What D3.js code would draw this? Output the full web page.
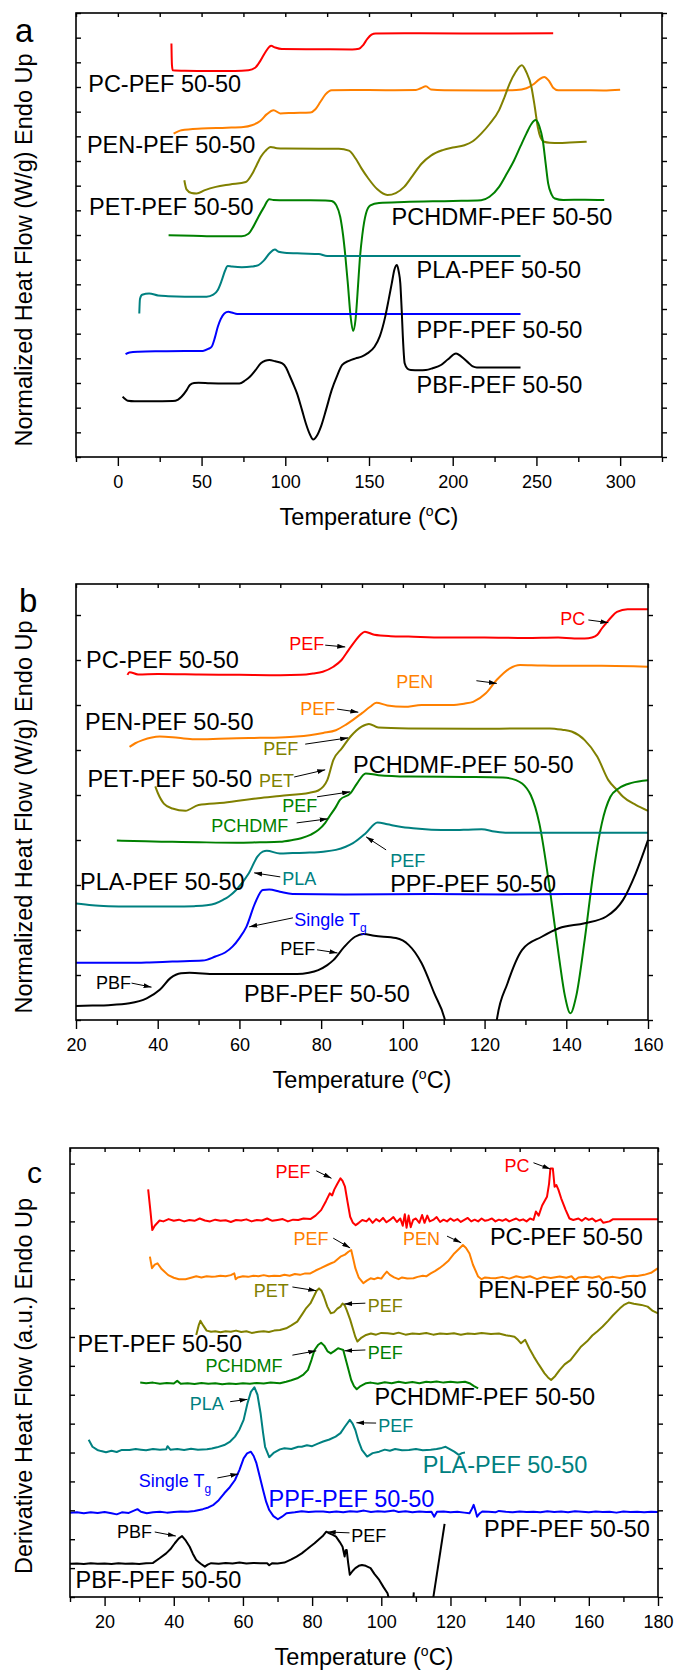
<!DOCTYPE html>
<html><head><meta charset="utf-8">
<script src="https://cdn.jsdelivr.net/npm/d3@7"></script>
<style>body{margin:0;background:#fff}svg{display:block}text{font-family:"Liberation Sans",Arial,sans-serif}</style>
</head><body><svg id="chart" width="674" height="1671"></svg>
<script>
// ---------- colours ----------
const colors = {PC:"#ff0000", PEN:"#ff8000", PET:"#808000", PCH:"#008000", PLA:"#008080", PPF:"#0000ff", PBF:"#000000"};

// ---------- panel a : Normalized heat flow (arbitrary units, 1 unit = 1 tick) ----------
const aPC = [[32,16.76],[32.3,15.9],[32.8,15.68],[40,15.66],[55,15.65],[70,15.65],[78,15.68],[82,15.78],[85,16.05],[88,16.4],[90.5,16.63],[91.5,16.67],[94,16.6],[98,16.54],[120,16.53],[140,16.52],[144,16.55],[146.5,16.7],[149,16.95],[151.5,17.12],[154,17.17],[180,17.18],[220,17.17],[260,17.18]];
const aPEN = [[33.3,13.11],[38,13.25],[50,13.32],[65,13.35],[75,13.38],[80,13.45],[85,13.62],[89,13.9],[93,14.06],[97,13.93],[105,13.95],[115,13.97],[118,14.1],[121,14.4],[124,14.7],[127.7,14.87],[140,14.88],[160,14.87],[178,14.88],[181,14.95],[184,15.03],[187,14.9],[195,14.87],[220,14.86],[238,14.88],[244,14.95],[248,15.1],[251.5,15.3],[254.6,15.41],[257.5,15.25],[260,14.97],[263,14.87],[275,14.87],[290,14.86],[300,14.89]];
const aPET = [[39.7,11.22],[41,10.85],[44,10.7],[47,10.68],[52,10.82],[58.5,10.95],[67,11.05],[76.4,11.15],[80,11.45],[83,11.85],[85.4,12.17],[88,12.4],[91.3,12.57],[95,12.52],[100,12.51],[120,12.5],[132,12.5],[138,12.42],[142,12.1],[145.5,11.7],[149.5,11.3],[155,10.85],[161,10.62],[166,10.7],[171,10.95],[176,11.4],[181.5,11.9],[187,12.22],[194,12.44],[200,12.55],[207,12.64],[212,12.8],[217,13.11],[222,13.5],[227.7,14.06],[231,14.6],[234,15.14],[237.5,15.6],[241.3,15.88],[244,15.6],[247,15.0],[249,14.2],[250.8,13.38],[252.5,12.95],[254.6,12.78],[258,12.74],[263.6,12.73],[270,12.75],[280,12.78]];
const aPCH = [[30.3,8.99],[45,8.97],[60,8.95],[74,8.95],[78,9.05],[81,9.35],[84,9.74],[87,10.1],[90.5,10.45],[93,10.42],[100,10.41],[115,10.41],[124,10.4],[127.7,10.38],[130.5,10.2],[132.8,9.74],[134.5,9.0],[135.8,8.2],[137.4,7.0],[139,5.7],[140.5,5.11],[142,5.6],[143.5,7.0],[144.5,8.0],[146,9.0],[148.2,9.87],[150.8,10.2],[156,10.3],[171,10.34],[200,10.38],[217,10.41],[222,10.55],[227.7,10.95],[232,11.45],[236.7,12.03],[240.5,12.6],[244,13.11],[247,13.5],[249.5,13.66],[251.8,13.4],[253.8,12.84],[255.5,11.9],[257,11.09],[259,10.65],[261,10.48],[266,10.42],[279,10.43],[290.5,10.42]];
const aPLA = [[12.8,5.82],[13.2,6.4],[14.5,6.58],[18.7,6.63],[24,6.55],[30,6.52],[40,6.5],[53,6.5],[57,6.58],[59.7,6.77],[62,7.15],[64,7.55],[65.6,7.74],[68,7.72],[74,7.69],[80,7.72],[84,7.78],[87,7.95],[90.5,8.25],[93.8,8.41],[96,8.32],[99.5,8.28],[110,8.25],[120,8.23],[125,8.15],[140,8.15],[180,8.15],[240.5,8.15]];
const aPPF = [[4.6,4.17],[7,4.24],[12.3,4.27],[25,4.29],[40,4.3],[50.8,4.3],[54,4.38],[56,4.47],[58,4.85],[59.7,5.28],[61.5,5.6],[63.6,5.82],[66,5.89],[68,5.86],[71.3,5.8],[90,5.8],[150,5.8],[200,5.8],[240.5,5.8]];
const aPBF = [[2.8,2.44],[3.5,2.4],[5.9,2.28],[10,2.26],[20,2.26],[32.8,2.27],[36,2.33],[38,2.44],[41,2.7],[43,2.92],[45.5,3.0],[48.2,3.01],[55,2.99],[65,2.98],[72.6,2.98],[76,3.1],[79,3.26],[82,3.5],[85.4,3.8],[88,3.9],[90.5,3.93],[94,3.88],[98.2,3.8],[100.5,3.62],[102,3.39],[104.5,3.0],[107,2.58],[110,1.9],[112.3,1.36],[114.5,0.95],[116.7,0.71],[118.8,0.85],[121.3,1.23],[124.5,1.95],[127.7,2.71],[131,3.3],[134,3.73],[138,3.9],[142,4.0],[145.6,4.07],[149,4.2],[153.3,4.47],[156.5,4.9],[159.7,5.69],[161.8,6.4],[163.6,7.04],[165.2,7.6],[166.7,7.78],[167.8,7.5],[168.7,7.04],[169.5,6.0],[170.2,4.9],[171.3,3.8],[173,3.58],[175,3.53],[180,3.52],[184,3.53],[188,3.6],[193,3.73],[197,3.95],[202,4.2],[205,4.08],[209.7,3.8],[212,3.67],[214.4,3.63],[225,3.63],[240.5,3.63]];
const aLabels = [["PC-PEF 50-50",-17.7,14.78],["PEN-PEF 50-50",-18.5,12.32],["PET-PEF 50-50",-17.2,9.81],["PCHDMF-PEF 50-50",163.5,9.4],["PLA-PEF 50-50",178.4,7.26],["PPF-PEF 50-50",178.4,4.82],["PBF-PEF 50-50",178.4,2.59]];
const aXMajor = [0,50,100,150,200,250,300];
const aXMinor = [-25,25,75,125,175,225,275,325];

// ---------- panel b : zoom of panel a ----------
const bPC = [[32.6,7.67],[33.1,7.73],[35.2,7.68],[40,7.69],[50,7.68],[60,7.67],[70,7.66],[75,7.67],[78,7.7],[80.4,7.74],[83,7.85],[85,8.0],[86.7,8.22],[88.3,8.42],[89.6,8.56],[90.7,8.63],[93,8.56],[97,8.53],[101.4,8.52],[110,8.5],[120,8.5],[130,8.49],[138,8.5],[142,8.48],[144.5,8.48],[146.3,8.5],[147.6,8.56],[148.7,8.7],[149.7,8.81],[151,8.95],[152.4,9.07],[155,9.13],[160,9.13]];
const bPEN = [[33.1,6.07],[34.5,6.15],[36.3,6.22],[40.5,6.3],[45,6.27],[49,6.24],[55,6.25],[59.4,6.26],[65,6.27],[69.9,6.28],[74,6.3],[77.2,6.33],[80.5,6.38],[83.6,6.44],[86,6.56],[87.8,6.67],[90,6.82],[92,6.96],[93.5,7.05],[96.2,6.99],[100.4,6.96],[104.6,7.0],[111.9,7.0],[115,7.03],[117.2,7.07],[120.3,7.26],[123,7.56],[126.1,7.81],[128.7,7.89],[133,7.88],[138,7.87],[148.7,7.87],[160,7.85]];
const bPET = [[39.4,5.19],[40,5.05],[41.5,4.81],[43.6,4.7],[46.8,4.65],[50,4.78],[56.2,4.83],[64.6,4.93],[69.9,4.98],[77.2,5.05],[79.3,5.1],[81.5,5.33],[83,5.78],[85.1,6.04],[87.2,6.3],[89.9,6.52],[91.7,6.58],[94,6.5],[101.4,6.48],[117.2,6.47],[130,6.48],[136,6.48],[139,6.45],[141.3,6.41],[144.5,6.22],[147.6,5.85],[150.3,5.33],[152.4,5.11],[153.9,4.96],[157,4.78],[160,4.65]];
const bPCH = [[30,3.99],[37,3.97],[43.6,3.96],[50,3.95],[59.4,3.94],[65,3.95],[69.9,3.96],[73,4.0],[75.1,4.04],[77.5,4.12],[79.3,4.22],[81,4.38],[82,4.52],[83.5,4.72],[84.6,4.89],[87.2,5.04],[88.8,5.26],[90.9,5.48],[94,5.44],[101.4,5.41],[115,5.4],[124.5,5.39],[127.7,5.33],[130.3,5.15],[131.3,5.0],[133.4,4.37],[136,2.89],[138.2,1.41],[139.7,0.52],[141,0.15],[142.4,0.52],[144.5,1.78],[146.6,3.26],[148.7,4.37],[150.8,4.96],[152.9,5.15],[156,5.27],[160,5.33]];
const bPLA = [[20,2.59],[24,2.55],[27.9,2.53],[33,2.52],[38.4,2.52],[44,2.52],[48.9,2.53],[52,2.55],[54.1,2.59],[56,2.67],[57.3,2.74],[59.2,2.89],[62.3,3.26],[64.4,3.63],[65.7,3.74],[66.7,3.76],[69.9,3.7],[73,3.71],[77.2,3.72],[80.5,3.74],[83.6,3.78],[86,3.85],[87.8,3.93],[90.9,4.15],[93.8,4.39],[96.2,4.35],[99,4.3],[102.5,4.26],[107,4.23],[111.9,4.22],[116,4.23],[119.3,4.24],[122.4,4.19],[125.6,4.16],[135,4.16],[145,4.16],[160,4.16]];
const bPPF = [[20,1.27],[27,1.27],[33.1,1.27],[38,1.28],[43.6,1.3],[51,1.32],[54.1,1.41],[56.5,1.5],[58.3,1.63],[60,1.82],[61.7,2.07],[63.8,2.59],[65.7,2.89],[67.3,2.9],[69.9,2.85],[73,2.8],[85.7,2.79],[106.7,2.8],[127,2.79],[140,2.8],[160,2.8]];
const bPBF1 = [[20,0.31],[24,0.32],[27.9,0.33],[33.1,0.37],[37.3,0.48],[40.5,0.67],[43.1,0.93],[45.7,1.04],[47.8,1.05],[54.1,1.02],[65,1.02],[74.1,1.02],[77,1.05],[79.3,1.11],[81.5,1.22],[83,1.33],[85.7,1.63],[88.3,1.85],[90.4,1.91],[93,1.87],[98.3,1.82],[101.4,1.67],[103,1.5],[104.6,1.26],[107.7,0.59],[110.3,0.0],[110.8,-0.2]];
const bPBF2 = [[122.8,-0.2],[123,0],[125.6,0.81],[129.2,1.56],[134,1.85],[138.2,2.04],[144.5,2.15],[149.8,2.3],[153.9,2.67],[157,3.26],[160,4.0]];
const bLabels = [["PC-PEF 50-50",22.45,7.82],["PEN-PEF 50-50",22.2,6.44],["PET-PEF 50-50",22.8,5.18],["PCHDMF-PEF 50-50",87.8,5.49],["PLA-PEF 50-50",21,2.89],["PPF-PEF 50-50",96.9,2.84],["PBF-PEF 50-50",61.1,0.4]];
// [text, series, textX, textY, arrowFromX, arrowFromY, arrowToX, arrowToY]
const bNotes = [["PC","PC",138.5,8.78,145.4,8.89,150.3,8.83],["PEF","PC",72.2,8.22,81,8.33,85.9,8.29],["PEN","PEN",98.4,7.38,118,7.54,123,7.48],["PEF","PEN",74.9,6.78,83.9,6.91,89.1,6.84],["PEF","PET",65.8,5.89,76.1,6.13,86.6,6.27],["PET","PET",64.8,5.18,73.4,5.4,81,5.56],["PEF","PCH",70.5,4.62,79,4.96,87.1,5.07],["PCHDMF","PCH",53.1,4.18,74,4.38,81.6,4.47],["PEF","PLA",96.9,3.4,95.9,3.78,91,4.07],["PLA","PLA",70.5,3.0,70,3.18,63.6,3.27],["Single T","PPF",73.4,2.09,73.1,2.27,62.4,2.07],["PEF","PBF",70,1.44,79,1.56,84,1.49],["PBF","PBF",24.9,0.69,33.6,0.82,38.5,0.73]];
const bXMajor = [20,40,60,80,100,120,140,160];
const bXMinor = [30,50,70,90,110,130,150];

// ---------- panel c : derivative heat flow ----------
const cPC = [[32.6,14.11],[33.3,13.3],[33.8,12.7],[34.5,12.85],[35.9,13.03],[37,13.0],[38.5,13.08],[40,13.02],[41.5,13.06],[43,13.0],[44.5,13.05],[46,13.02],[47.5,13.1],[49,13.03],[50.5,13.0],[52,13.06],[53.5,13.02],[55,13.04],[56.5,12.98],[58,13.05],[59.5,13.03],[61,13.07],[62.5,13.0],[64,13.05],[65.5,13.03],[67,13.1],[68.5,13.02],[70,13.05],[71.5,13.08],[73,13.0],[74.5,13.06],[76,13.05],[77.5,13.1],[79.5,13.08],[81,13.2],[82.6,13.39],[84,13.7],[85.1,13.97],[85.8,13.9],[86.4,14.1],[87.3,14.3],[88.2,14.49],[88.8,14.4],[89.5,14.2],[90.2,13.7],[91,13.16],[91.8,12.95],[92.6,12.87],[93.5,12.95],[94.5,13.05],[95.7,13.0],[96.5,13.1],[97.5,12.95],[98.5,13.08],[99.5,13.0],[100.5,13.12],[101.5,12.97],[102.5,13.05],[103.5,13.15],[104.5,12.98],[105.5,13.1],[106.2,12.85],[106.8,13.25],[107.3,12.78],[107.9,13.2],[108.5,12.8],[109.2,13.05],[110,13.1],[111,12.95],[111.8,13.22],[112.5,12.95],[113.3,13.2],[114,13.0],[115,13.05],[116,13.15],[117,12.98],[118,13.06],[119,13.0],[120,13.1],[121,13.02],[122,13.08],[123,12.98],[124,13.05],[125,13.12],[126,13.0],[127,13.06],[128,13.0],[129,13.1],[130,13.02],[131,13.05],[132,13.1],[133,13.0],[134,13.06],[135,13.02],[136,13.08],[137,13.0],[138,13.05],[139,13.1],[140,13.03],[141,13.07],[142,13.0],[143,13.1],[144,13.05],[144.7,13.34],[145.5,13.2],[146.5,13.55],[147.9,13.85],[148.5,14.3],[148.9,14.83],[149.6,14.83],[150.1,14.2],[150.6,14.26],[151.2,14.1],[152,13.8],[153.3,13.4],[154.4,13.1],[155.5,13.05],[157,13.1],[158,13.02],[159,13.12],[160,13.05],[161,13.1],[162,13.0],[163.4,13.07],[164.2,12.95],[166,13.0],[166.9,13.07],[172,13.07],[180,13.07]];
const cPEN = [[33.1,11.78],[33.7,11.38],[34.5,11.5],[35.3,11.55],[36.5,11.35],[38.4,11.14],[40,11.05],[41.5,11.0],[43.4,11.0],[45,11.05],[46.5,11.1],[48,11.06],[49.5,11.1],[51,11.08],[52.1,11.09],[53.5,11.12],[55,11.1],[56.5,11.14],[57.5,11.2],[57.9,11.0],[58.5,11.06],[60,11.1],[61.5,11.08],[63,11.12],[64.5,11.1],[66,11.14],[67.5,11.1],[69,11.12],[70.7,11.11],[72,11.15],[73.5,11.12],[75,11.18],[76.5,11.15],[78,11.2],[79.5,11.2],[81,11.3],[82.5,11.38],[84.4,11.49],[85.5,11.55],[86.5,11.6],[88.2,11.78],[89.5,11.85],[90.5,11.95],[91.3,12.01],[91.9,11.7],[92.5,11.38],[93.5,11.05],[94.8,10.86],[95.8,10.95],[96.9,11.03],[98,11.0],[99,11.05],[100,11.02],[100.8,11.15],[101.6,11.26],[102.5,11.15],[103.7,11.06],[105,11.0],[106,11.06],[107.5,11.02],[109.3,11.03],[110.5,11.08],[112,11.12],[113,11.1],[114.3,11.2],[115.5,11.28],[116.8,11.38],[118,11.49],[119.5,11.65],[121.1,11.89],[122.5,12.05],[123.6,12.18],[124.5,12.08],[125.5,11.89],[126.5,11.5],[128,11.09],[129,11.0],[130,11.06],[131.5,11.04],[133,11.03],[135,11.08],[137,11.02],[139,11.1],[141,11.05],[143,11.1],[145,11.0],[147,11.08],[149,11.04],[151.6,11.09],[153.5,11.05],[155,11.1],[156,10.97],[157,11.06],[159,11.08],[161,11.05],[163,11.1],[164,10.98],[165,11.05],[167,11.08],[169,11.04],[171,11.1],[173,11.12],[174,11.11],[176,11.15],[178,11.22],[180,11.38]];
const cPET = [[46.5,9.07],[47.2,9.4],[47.7,9.56],[48.5,9.4],[49.5,9.22],[50.8,9.18],[52,9.2],[53.5,9.16],[55,9.2],[56.5,9.18],[58,9.22],[59.5,9.17],[61,9.2],[62.5,9.14],[64.5,9.18],[66,9.2],[67.5,9.17],[69,9.22],[70.7,9.24],[72.5,9.3],[74,9.4],[75.7,9.53],[77.2,9.8],[78.3,10.0],[79.5,10.16],[80.5,10.4],[81.3,10.6],[82,10.68],[82.7,10.6],[83.4,10.4],[84.4,10.05],[85.4,9.82],[86.3,9.85],[87.3,9.98],[88.2,10.05],[88.8,10.16],[89.4,10.1],[90,9.93],[91,9.6],[91.9,9.24],[92.5,9.0],[93.1,8.84],[94.3,8.98],[95.6,9.07],[97,9.12],[98.5,9.08],[100,9.14],[101.8,9.13],[103.5,9.1],[105,9.15],[107,9.08],[109,9.12],[111,9.1],[113,9.14],[115,9.08],[117,9.12],[119,9.1],[121,9.13],[123,9.08],[125,9.12],[127,9.1],[129,9.14],[131.7,9.1],[134,9.12],[136,9.06],[138.5,9.01],[139.5,8.9],[140.4,8.78],[141.6,8.9],[142.8,8.6],[144.1,8.32],[145.5,8.05],[147.2,7.74],[148.2,7.6],[149.1,7.51],[150.3,7.65],[151.6,7.86],[153,8.05],[154.7,8.2],[156,8.4],[157.8,8.67],[159.5,8.85],[161,9.05],[162.5,9.2],[164,9.36],[165.5,9.55],[167,9.75],[169,9.99],[170.3,10.12],[171.5,10.19],[173,10.15],[175.2,10.11],[177,10.05],[178.5,9.9],[180,9.82]];
const cPCH = [[30.3,7.42],[32,7.4],[34,7.42],[36,7.38],[38,7.41],[40,7.39],[41,7.48],[42,7.38],[44,7.4],[46,7.37],[48,7.41],[50,7.38],[52,7.4],[54,7.36],[56,7.39],[58,7.37],[60,7.4],[62,7.38],[64,7.41],[66,7.39],[68,7.42],[70.7,7.4],[72.5,7.45],[74,7.5],[75.7,7.57],[77.5,7.7],[78.8,7.86],[79.8,8.2],[80.7,8.55],[81.7,8.72],[82.6,8.8],[83.5,8.7],[84.5,8.5],[85.4,8.43],[86.5,8.52],[87.5,8.61],[88.3,8.58],[89,8.55],[90,8.1],[91.3,7.51],[92.1,7.3],[92.9,7.19],[94,7.3],[95.6,7.4],[97,7.42],[99,7.38],[101,7.43],[103,7.4],[105,7.45],[107,7.41],[109,7.44],[111,7.4],[113,7.45],[114.3,7.43],[116,7.46],[118,7.42],[120,7.45],[122,7.42],[124.2,7.45],[125.5,7.4],[126.8,7.3],[128,7.22]];
const cPLA = [[15.4,5.44],[16.5,5.2],[17.9,5.09],[19,5.05],[20.4,5.01],[22,5.06],[23.5,5.02],[25,5.09],[27.2,5.09],[29,5.12],[30.5,5.1],[32,5.08],[34,5.12],[36,5.1],[37.8,5.11],[38.2,5.22],[39,5.1],[41,5.12],[43,5.09],[45,5.13],[47,5.1],[49.6,5.11],[51,5.14],[52.5,5.18],[54.6,5.26],[56.3,5.38],[57.7,5.55],[59,5.8],[60.2,6.13],[61.3,6.7],[62.3,7.1],[63.3,7.26],[64.2,7.0],[65.1,6.36],[65.8,5.7],[66.4,5.2],[67.6,4.84],[69,5.0],[70.7,5.11],[72,5.15],[74,5.12],[76,5.2],[77,5.2],[78.5,5.25],[80,5.22],[81.5,5.3],[83.2,5.38],[85,5.45],[86.8,5.55],[88.2,5.67],[89.5,5.9],[90.9,6.13],[91.7,6.0],[92.5,5.78],[93.4,5.4],[94.4,5.09],[95.9,4.86],[97.5,4.98],[99.4,5.03],[101,5.1],[102.5,5.06],[104,5.12],[106,5.08],[108,5.09],[110,5.12],[112,5.08],[114.3,5.1],[116,5.12],[117.5,5.16],[118.6,5.2],[119.8,5.12],[121.1,5.03],[122.4,4.92],[123.3,4.98],[124.2,5.0]];
const cPPF = [[10,2.92],[12,2.93],[14,2.9],[16,2.93],[18,2.91],[20,2.94],[22,2.9],[23.5,2.86],[25,2.93],[27,2.91],[29.5,3.04],[30.5,2.95],[32.2,2.9],[34,2.93],[36,2.95],[38,2.92],[40,2.94],[42.1,2.96],[44,2.95],[46,2.98],[48.4,3.04],[50,3.1],[51.5,3.19],[53,3.35],[54.6,3.59],[56.2,3.8],[57.7,4.05],[59,4.4],[60.2,4.8],[61.2,4.97],[62.3,5.03],[63.1,4.88],[63.9,4.63],[64.8,4.2],[65.8,3.71],[66.7,3.3],[67.6,3.01],[68.8,2.8],[70.1,2.69],[71.3,2.78],[72.6,2.9],[75,2.93],[77,2.97],[79,2.94],[81,2.96],[83.2,2.96],[85,2.93],[87,2.96],[89,2.93],[91,2.97],[93,2.95],[95,2.99],[97,2.94],[99,2.97],[101,2.95],[103.7,2.99],[105,2.94],[107,2.97],[109,2.93],[111,2.96],[113,2.94],[114.5,2.95],[115.3,2.78],[116.1,2.95],[118,2.96],[120,2.93],[122,2.95],[124,2.92],[125.5,2.9],[126.2,3.05],[126.7,3.19],[127.2,3.0],[127.7,2.78],[128.5,2.9],[129.2,2.96],[131,2.95],[133,2.93],[134,2.98],[136,2.95],[138,2.93],[140,2.96],[142,2.94],[144,2.95],[146,2.93],[148,2.97],[150,2.94],[152,2.96],[154,2.93],[156,2.97],[158,2.95],[160,2.93],[162,2.96],[164,2.94],[166,2.95],[168,2.92],[170,2.96],[172,2.94],[174,2.95],[176,2.93],[178,2.95],[180,2.94]];
const cPBF1 = [[10,1.15],[12,1.16],[14,1.14],[16,1.17],[18,1.15],[20,1.16],[22,1.14],[24,1.17],[26,1.15],[28,1.16],[30,1.14],[32,1.17],[34,1.18],[35.9,1.34],[37.8,1.51],[39,1.65],[40.3,1.86],[41.4,2.02],[42.4,2.11],[43.5,1.95],[44.6,1.74],[45.5,1.5],[46.5,1.28],[47.8,1.15],[49,1.05],[49.8,1.12],[50.8,1.17],[53,1.15],[55,1.18],[57,1.16],[59,1.19],[61,1.16],[63,1.18],[65,1.17],[67,1.17],[67.6,1.1],[68.5,1.17],[70,1.16],[72,1.19],[74,1.3],[75.5,1.4],[77,1.51],[78.5,1.65],[79.5,1.75],[80.7,1.86],[82,2.0],[83,2.1],[84.1,2.26],[85,2.2],[86,2.15],[86.9,2.09],[88,1.9],[88.8,1.74],[89.4,1.4],[89.7,1.62],[90,1.63],[90.4,1.2],[90.9,0.77],[91.7,0.9],[92.5,1.0],[93.5,1.08],[94.4,1.11],[95.5,1.08],[96.9,1.0],[98,0.8],[99.4,0.59],[100.6,0.35],[101.8,0.13],[102.5,-0.2]];
const cPBF2 = [[109.3,0.0],[109.4,0.16]];
const cPBF3 = [[114.8,-0.2],[118.3,2.53]];
const cLabels = [["PC-PEF 50-50",131.4,12.18,"PBF"],["PEN-PEF 50-50",128,10.35,"PBF"],["PET-PEF 50-50",12.2,8.49,"PBF"],["PCHDMF-PEF 50-50",98,6.64,"PBF"],["PLA-PEF 50-50",112,4.28,"PLA"],["PPF-PEF 50-50",67.4,3.12,"PPF"],["PPF-PEF 50-50",129.7,2.08,"PBF"],["PBF-PEF 50-50",11.6,0.31,"PBF"]];
const cNotes = [["PEF","PC",69.4,14.5,81.2,14.75,85.6,14.49],["PC","PC",135.6,14.72,144,15.03,148.9,14.81],["PEF","PEN",74.6,12.18,86.1,12.42,91,12.08],["PEN","PEN",106.3,12.18,119,12.49,123.1,12.26],["PET","PET",63.1,10.39,74.3,10.73,81.2,10.6],["PEF","PET",96.1,9.87,95.4,10.17,89.3,10.14],["PEF","PCH",96.1,8.24,95.4,8.55,89.3,8.52],["PCHDMF","PCH",49.2,7.8,74.3,8.37,81.2,8.52],["PLA","PLA",44.6,6.47,56.3,6.76,61.3,6.84],["PEF","PLA",99.1,5.72,98.5,6.02,92.8,6.03],["Single T","PPF",29.9,3.82,52.6,4.12,58.7,4.26],["PBF","PBF",23.6,2.04,34.5,2.25,40.6,2.11],["PEF","PBF",91.3,1.91,90.8,2.22,84.5,2.25]];
const cXMajor = [20,40,60,80,100,120,140,160,180];
const cXMinor = [10,30,50,70,90,110,130,150,170];

// ---------- drawing ----------
const svg = d3.select("#chart");
const defs = svg.append("defs");
defs.append("marker").attr("id","arr").attr("viewBox","0 0 10 6").attr("refX",10).attr("refY",3)
  .attr("markerWidth",8).attr("markerHeight",5).attr("markerUnits","userSpaceOnUse").attr("orient","auto")
  .append("path").attr("d","M0,0L10,3L0,6Z").attr("fill","#000");

function panel(o){
  const x = d3.scaleLinear().domain(o.xd).range([o.L,o.R]);
  const y = d3.scaleLinear().domain(o.yd).range([o.B,o.T]);
  const g = svg.append("g");
  defs.append("clipPath").attr("id","clip"+o.id).append("rect")
    .attr("x",o.L).attr("y",o.T).attr("width",o.R-o.L).attr("height",o.B-o.T);
  const line = d3.line().x(d=>x(d[0])).y(d=>y(d[1])).curve(o.curve);
  const lg = g.append("g").attr("clip-path",`url(#clip${o.id})`);
  o.series.forEach(s=>lg.append("path").attr("d",line(s[0])).attr("fill","none")
    .attr("stroke",colors[s[1]]).attr("stroke-width",2).attr("stroke-linejoin","round"));
  const yt = d3.range(0, Math.floor(o.yd[1])+1);
  const style = sel=>{sel.select(".domain").remove(); sel.selectAll("line").attr("stroke","#000").attr("stroke-width",1.4);
    sel.selectAll("text").attr("font-size",18).attr("fill","#000").attr("font-family","Liberation Sans, Arial, sans-serif");};
  g.append("g").attr("transform",`translate(0,${o.B})`).call(d3.axisBottom(x).tickValues(o.major).tickSize(9).tickPadding(9).tickFormat(d3.format("d"))).call(style);
  g.append("g").attr("transform",`translate(0,${o.B})`).call(d3.axisBottom(x).tickValues(o.minor).tickSize(5).tickFormat("")).call(style);
  g.append("g").attr("transform",`translate(0,${o.T})`).call(d3.axisTop(x).tickValues(o.major.concat(o.minor)).tickSize(-4).tickFormat("")).call(style);
  g.append("g").attr("transform",`translate(${o.L},0)`).call(d3.axisLeft(y).tickValues(yt).tickSize(-5).tickFormat("")).call(style);
  g.append("g").attr("transform",`translate(${o.R},0)`).call(d3.axisRight(y).tickValues(yt).tickSize(5).tickFormat("")).call(style);
  g.append("rect").attr("x",o.L).attr("y",o.T).attr("width",o.R-o.L).attr("height",o.B-o.T)
    .attr("fill","none").attr("stroke","#000").attr("stroke-width",1.6);
  // series labels
  o.labels.forEach(l=>g.append("text").attr("x",x(l[1])).attr("y",y(l[2])).attr("font-size",23.5)
    .attr("fill",l[3]?colors[l[3]]:"#000").text(l[0]));
  // annotations
  (o.notes||[]).forEach(n=>{
    const t = g.append("text").attr("x",x(n[2])).attr("y",y(n[3])).attr("font-size",18).attr("fill",colors[n[1]]).text(n[0]);
    if(n[0]==="Single T") t.append("tspan").attr("dy",6).attr("font-size",12).text("g");
    g.append("line").attr("x1",x(n[4])).attr("y1",y(n[5])).attr("x2",x(n[6])).attr("y2",y(n[7]))
      .attr("stroke","#000").attr("stroke-width",1).attr("marker-end","url(#arr)");
  });
  // axis titles
  const tt = g.append("text").attr("x",(o.L+o.R)/2).attr("y",o.B+68).attr("text-anchor","middle").attr("font-size",23.5).text("Temperature (");
  tt.append("tspan").attr("dy",-9).attr("font-size",14).text("o");
  tt.append("tspan").attr("dy",9).text("C)");
  g.append("text").attr("transform",`translate(32,${o.ytc}) rotate(-90)`).attr("text-anchor","middle")
    .attr("font-size",23.5).text(o.ytitle);
  g.append("text").attr("x",o.lx).attr("y",o.ly).attr("font-size",o.ls).text(o.letter);
}

panel({id:"a", xd:[-25,325], yd:[0,18], L:76, R:662, T:13, B:457, curve:d3.curveMonotoneX,
  series:[[aPC,"PC"],[aPEN,"PEN"],[aPET,"PET"],[aPCH,"PCH"],[aPLA,"PLA"],[aPPF,"PPF"],[aPBF,"PBF"]],
  labels:aLabels, major:aXMajor, minor:aXMinor, ytc:250, ytitle:"Normalized Heat Flow (W/g) Endo Up",
  letter:"a", lx:15, ly:42, ls:33});
panel({id:"b", xd:[20,160], yd:[0,9.689], L:76, R:648, T:584, B:1020, curve:d3.curveMonotoneX,
  series:[[bPC,"PC"],[bPEN,"PEN"],[bPET,"PET"],[bPCH,"PCH"],[bPLA,"PLA"],[bPPF,"PPF"],[bPBF1,"PBF"],[bPBF2,"PBF"]],
  labels:bLabels, notes:bNotes, major:bXMajor, minor:bXMinor, ytc:817, ytitle:"Normalized Heat Flow (W/g) Endo Up",
  letter:"b", lx:19, ly:612, ls:33});
panel({id:"c", xd:[10,180], yd:[0,15.54], L:70, R:658, T:1148, B:1597, curve:d3.curveLinear,
  series:[[cPC,"PC"],[cPEN,"PEN"],[cPET,"PET"],[cPCH,"PCH"],[cPLA,"PLA"],[cPPF,"PPF"],[cPBF1,"PBF"],[cPBF2,"PBF"],[cPBF3,"PBF"]],
  labels:cLabels, notes:cNotes, major:cXMajor, minor:cXMinor, ytc:1386, ytitle:"Derivative Heat Flow (a.u.) Endo Up",
  letter:"c", lx:27, ly:1183, ls:30});
</script></body></html>
